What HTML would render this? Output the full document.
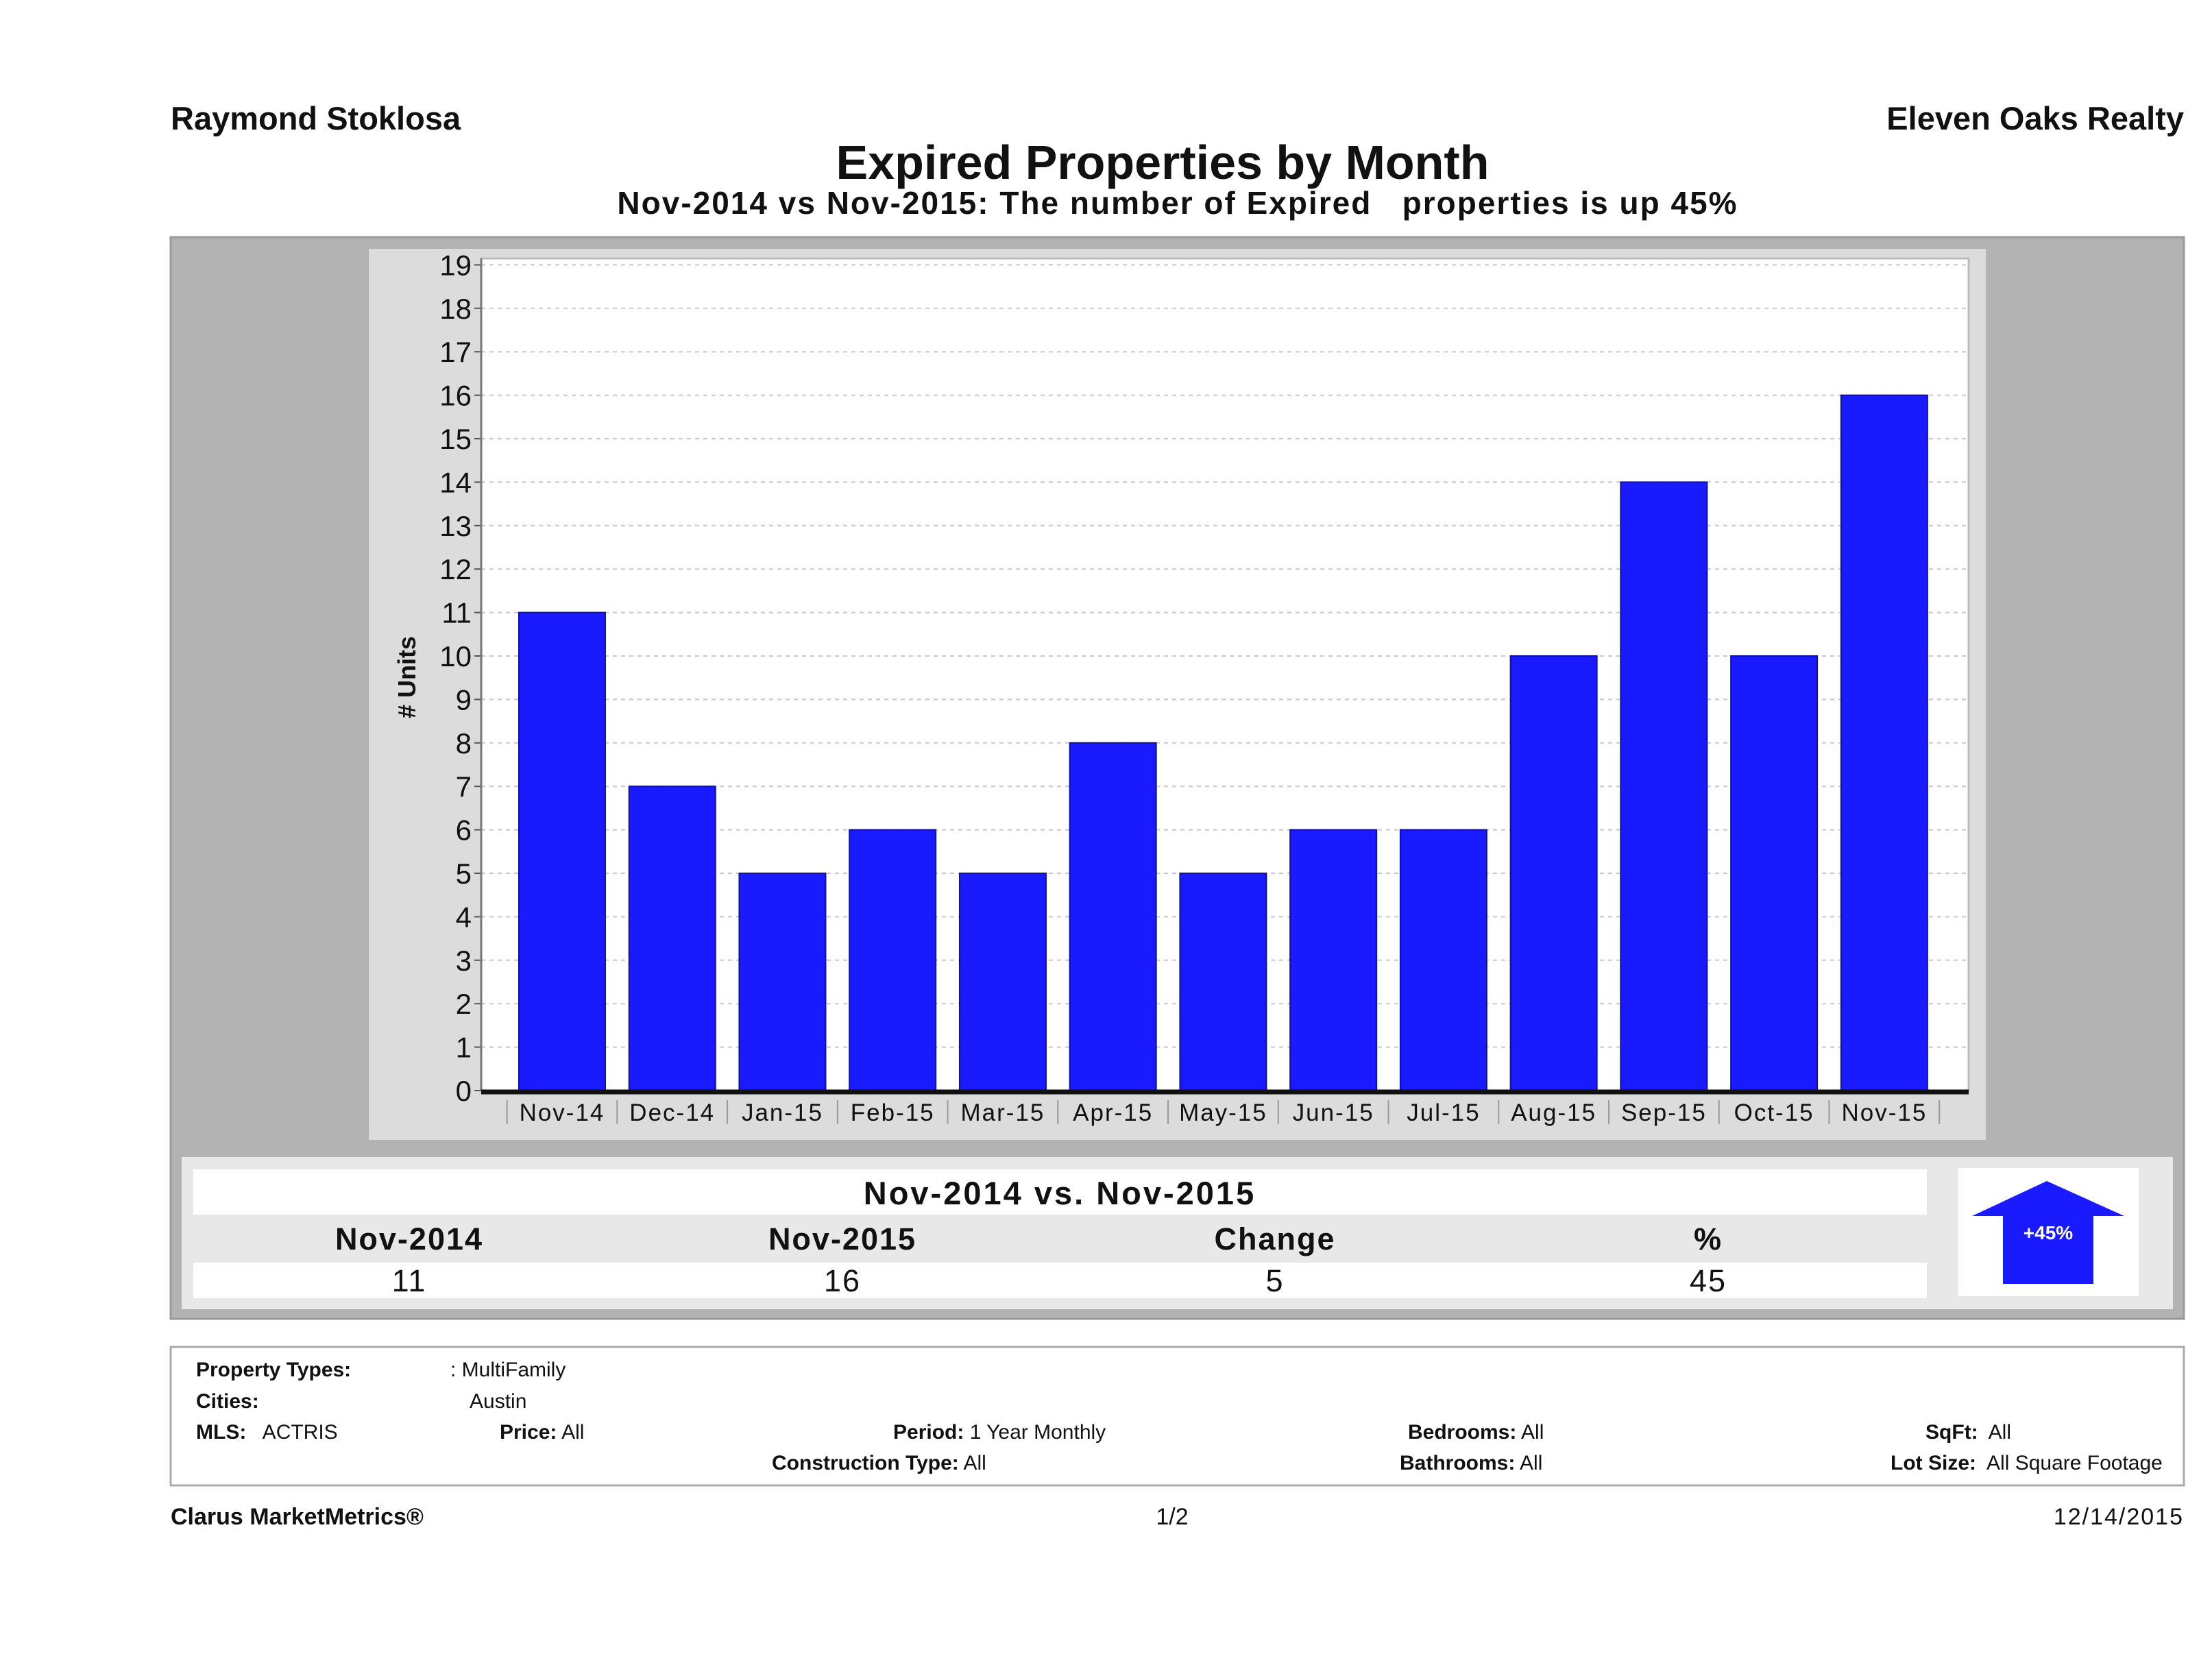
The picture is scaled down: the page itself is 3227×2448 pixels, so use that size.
<!DOCTYPE html>
<html><head><meta charset="utf-8"><style>
html,body{margin:0;padding:0;background:#fff;}
svg{display:block;font-family:"Liberation Sans",sans-serif;}
</style></head><body>
<svg id="chart" width="3227" height="2448" viewBox="0 0 3227 2448" xmlns="http://www.w3.org/2000/svg">
<text x="249" y="189" font-size="47" font-weight="bold" fill="#111">Raymond Stoklosa</text>
<text x="3186" y="189" font-size="47" font-weight="bold" fill="#111" text-anchor="end">Eleven Oaks Realty</text>
<text x="1696" y="261" font-size="70" font-weight="bold" fill="#111" text-anchor="middle">Expired Properties by Month</text>
<text x="1718" y="312" font-size="46" font-weight="bold" fill="#111" text-anchor="middle" letter-spacing="2">Nov-2014 vs Nov-2015: The number of Expired &#160; properties is up 45%</text>

<rect x="249" y="346" width="2937" height="1578" fill="#b3b3b3" stroke="#999" stroke-width="3"/>
<rect x="538" y="363" width="2359" height="1300" fill="#dcdcdc"/>
<rect x="702" y="377" width="2170" height="1214" fill="#fff" stroke="#bbb" stroke-width="3"/>
<g id="grid"></g>
<g id="bars"></g>
<g id="yaxis"></g>
<g id="xaxis"></g>
<text transform="translate(606,988) rotate(-90)" font-size="36" font-weight="bold" fill="#111" text-anchor="middle"># Units</text>

<rect x="265" y="1688" width="2905" height="222" fill="#e8e8e8"/>
<rect x="282" y="1706" width="2529" height="66" fill="#fff"/>
<text x="1546" y="1757" font-size="47" font-weight="bold" fill="#111" text-anchor="middle" letter-spacing="3">Nov-2014 vs. Nov-2015</text>
<rect x="282" y="1842" width="2529" height="52" fill="#fff"/>
<g font-size="45" fill="#111" text-anchor="middle" letter-spacing="2">
<text x="597" y="1823" font-weight="bold">Nov-2014</text>
<text x="1229" y="1823" font-weight="bold">Nov-2015</text>
<text x="1860" y="1823" font-weight="bold">Change</text>
<text x="2492" y="1823" font-weight="bold">%</text>
<text x="597" y="1884">11</text>
<text x="1229" y="1884">16</text>
<text x="1860" y="1884">5</text>
<text x="2492" y="1884">45</text>
</g>
<rect x="2857" y="1704" width="263" height="187" fill="#fff"/>
<polygon points="2986,1723 3099,1774 3054,1774 3054,1873 2922,1873 2922,1774 2877,1774" fill="#1a1aff"/>
<text x="2988" y="1808" font-size="28" font-weight="bold" fill="#fff" text-anchor="middle">+45%</text>

<rect x="249" y="1965" width="2937" height="202" fill="#fff" stroke="#aaa" stroke-width="3"/>
<g font-size="30" fill="#111">
<text x="286" y="2008" font-weight="bold">Property Types:</text>
<text x="657" y="2008">: MultiFamily</text>
<text x="286" y="2054" font-weight="bold">Cities:</text>
<text x="685" y="2054">Austin</text>
<text x="286" y="2099"><tspan font-weight="bold">MLS:</tspan>&#160;&#160; ACTRIS</text>
<text x="729" y="2099"><tspan font-weight="bold">Price:</tspan> All</text>
<text x="1303" y="2099"><tspan font-weight="bold">Period:</tspan> 1 Year Monthly</text>
<text x="1126" y="2144"><tspan font-weight="bold">Construction Type:</tspan> All</text>
<text x="2054" y="2099"><tspan font-weight="bold">Bedrooms:</tspan> All</text>
<text x="2042" y="2144"><tspan font-weight="bold">Bathrooms:</tspan> All</text>
<text x="2809" y="2099"><tspan font-weight="bold">SqFt:</tspan>&#160; All</text>
<text x="2758" y="2144"><tspan font-weight="bold">Lot Size:</tspan>&#160; All Square Footage</text>
</g>
<text x="249" y="2224" font-size="34" font-weight="bold" fill="#111">Clarus MarketMetrics®</text>
<text x="1710" y="2224" font-size="34" fill="#111" text-anchor="middle">1/2</text>
<text x="3186" y="2224" font-size="34" fill="#111" text-anchor="end" letter-spacing="2">12/14/2015</text>
</svg>
<script>
const categories = ["Nov-14","Dec-14","Jan-15","Feb-15","Mar-15","Apr-15","May-15","Jun-15","Jul-15","Aug-15","Sep-15","Oct-15","Nov-15"];
const values = [11,7,5,6,5,8,5,6,6,10,14,10,16];
const yTicks = [0,1,2,3,4,5,6,7,8,9,10,11,12,13,14,15,16,17,18,19];

const NS = "http://www.w3.org/2000/svg";
const plotL = 702, plotR = 2872, zeroY = 1591, unit = 63.4;
const step = (plotR - plotL) / (categories.length + 0.5);
const y = v => zeroY - v * unit;
const xc = i => plotL + step * 0.734 + i * step;
const barW = 126;
function mk(tag, attrs, parent){const e=document.createElementNS(NS,tag);for(const k in attrs)e.setAttribute(k,attrs[k]);parent.appendChild(e);return e;}
const grid=document.getElementById('grid'), bars=document.getElementById('bars'), ya=document.getElementById('yaxis'), xa=document.getElementById('xaxis');
yTicks.forEach(t=>{
  if(t>0){const g=mk('line',{x1:plotL,x2:plotR,y1:y(t),y2:y(t),stroke:'#c8c8c8','stroke-width':2,'stroke-dasharray':'6 6'},grid);
  
  }
  const tk=mk('line',{x1:plotL-10,x2:plotL,y1:y(t),y2:y(t),stroke:'#555','stroke-width':2},ya);
  
  
  const lb=mk('text',{x:plotL-14,y:y(t)+15,'font-size':42,'text-anchor':'end',fill:'#111'},ya);
  lb.textContent=t;
  
  
});
const axl=mk('line',{x1:plotL,x2:plotL,y1:377,y2:zeroY,stroke:'#777','stroke-width':3},ya);


categories.forEach((c,i)=>{
  const b=mk('rect',{x:xc(i)-barW/2,y:y(values[i]),width:barW,height:values[i]*unit,fill:'#1a1aff',stroke:'#10109a','stroke-width':2},bars);
  
  
  const l=mk('text',{x:xc(i),y:1635,'font-size':35,'text-anchor':'middle',fill:'#111','letter-spacing':2},xa);
  l.textContent=c;
  
  
  const s=mk('line',{x1:xc(i)-step/2,x2:xc(i)-step/2,y1:1605,y2:1640,stroke:'#999','stroke-width':2},xa);
  
  
});
const sEnd=mk('line',{x1:xc(categories.length-1)+step/2,x2:xc(categories.length-1)+step/2,y1:1605,y2:1640,stroke:'#999','stroke-width':2},xa);


const zl=mk('line',{x1:plotL,x2:plotR,y1:zeroY+2,y2:zeroY+2,stroke:'#111','stroke-width':7},xa);


</script>
</body></html>
